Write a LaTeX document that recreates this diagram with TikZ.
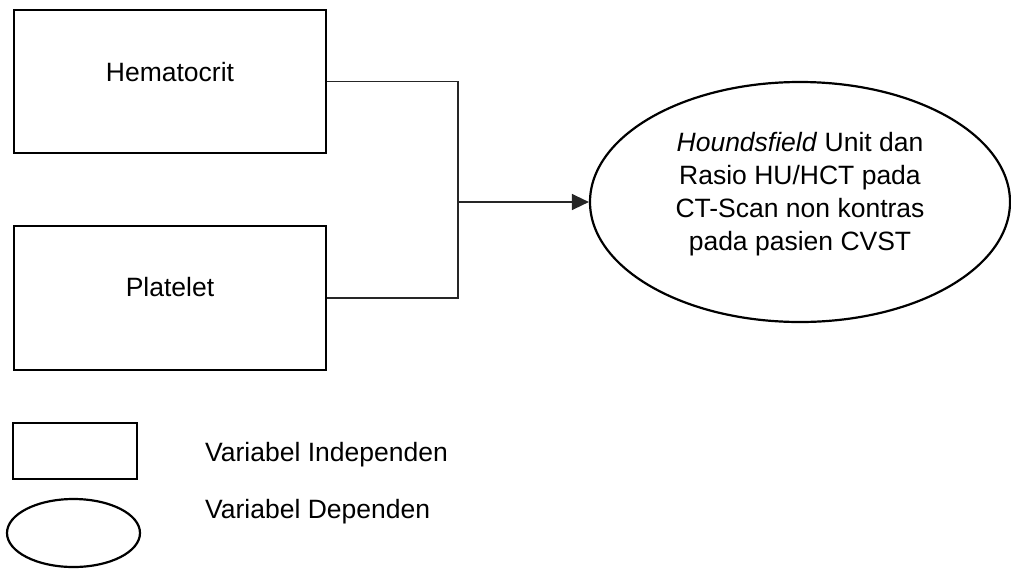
\documentclass[tikz,border=0pt]{standalone}
\usepackage{fontspec}
\setmainfont{Liberation Sans}
\usetikzlibrary{shapes.geometric,arrows.meta}
\begin{document}
\begin{tikzpicture}[x=1pt,y=-1pt,
  varbox/.style={draw=black,line width=2.2pt,rectangle,inner sep=0pt},
  varell/.style={draw=black,line width=2.2pt,ellipse,inner sep=0pt},
  lbl/.style={font=\fontsize{26.5}{33}\selectfont,align=center,inner sep=0pt},
  conn/.style={draw=black!85,line width=1.4pt}]
\useasboundingbox (0,0) rectangle (1011,568);
\node[varbox,minimum width=312pt,minimum height=143pt] (h) at (170,81.5) {};
\node[lbl] (ht) at (170,72) {Hematocrit};
\node[varbox,minimum width=312pt,minimum height=144pt] (p) at (170,298) {};
\node[lbl] (pt) at (170,287) {Platelet};
\node[varell,minimum width=420pt,minimum height=240pt] (d) at (800,202) {};
\node[lbl] (dt) at (800,194) {\textit{Houndsfield} Unit dan\\Rasio HU/HCT pada\\CT-Scan non kontras\\pada pasien CVST};
\coordinate (j) at (458,202);
\draw[conn] (h.east) -| (j);
\draw[conn] (p.east) -| (j);
\draw[conn,-{Triangle[length=17pt,width=16pt]}] (j) -- (d.west);
\node[varbox,minimum width=124pt,minimum height=56pt] (lr) at (75,451) {};
\node[varell,minimum width=133pt,minimum height=68pt] (le) at (73.5,533) {};
\node[lbl,anchor=west] (lrt) at (205,455) {Variabel Independen};
\node[lbl,anchor=west] (let) at (205,512) {Variabel Dependen};
\end{tikzpicture}
\end{document}
